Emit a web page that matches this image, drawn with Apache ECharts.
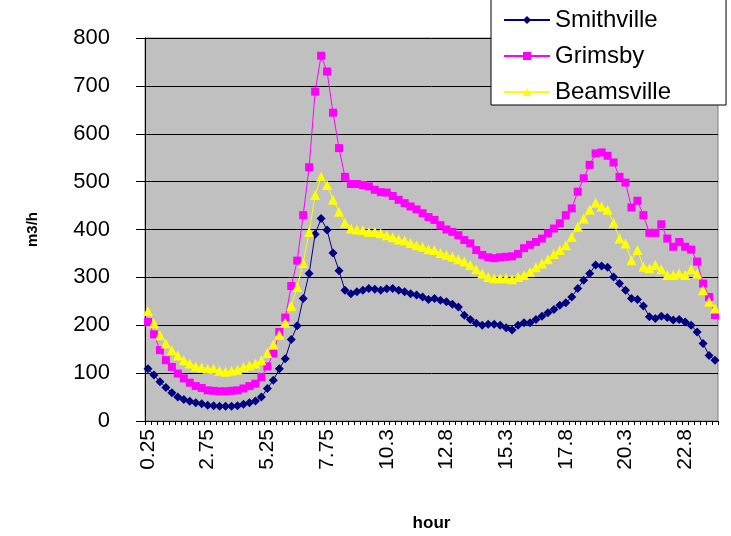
<!DOCTYPE html>
<html>
<head>
<meta charset="utf-8">
<script src="https://cdn.jsdelivr.net/npm/echarts@6/dist/echarts.min.js"></script>
<style>
html,body{margin:0;padding:0;background:#fff;}
#chart{width:731px;height:536px;}
</style>
</head>
<body>
<div id="chart"></div>
<script>
var hours = ["0.25","0.5","0.75","1","1.25","1.5","1.75","2","2.25","2.5","2.75","3",
"3.25","3.5","3.75","4","4.25","4.5","4.75","5","5.25","5.5","5.75","6",
"6.25","6.5","6.75","7","7.25","7.5","7.75","8","8.25","8.5","8.75","9",
"9.25","9.5","9.75","10","10.3","10.5","10.8","11","11.3","11.5","11.8","12",
"12.3","12.5","12.8","13","13.3","13.5","13.8","14","14.3","14.5","14.8","15",
"15.3","15.5","15.8","16","16.3","16.5","16.8","17","17.3","17.5","17.8","18",
"18.3","18.5","18.8","19","19.3","19.5","19.8","20","20.3","20.5","20.8","21",
"21.3","21.5","21.8","22","22.3","22.5","22.8","23","23.3","23.5","23.8","24"];

var smithville = [109,96,82,70,59,50,45,41,38,36,33,32,
31,31,31,32,35,38,42,50,68,85,109,130,
170,199,256,308,390,423,399,351,314,273,266,270,
273,277,275,273,276,277,273,270,266,263,259,254,
256,252,249,244,238,221,212,204,200,202,202,200,
195,190,200,205,205,212,219,226,233,242,247,259,
277,294,308,326,324,321,301,287,273,256,254,240,
218,214,219,216,211,212,207,200,186,162,137,127];

var grimsby = [207,181,148,127,113,99,89,80,73,69,64,63,
62,62,63,64,68,73,78,92,114,141,186,216,
282,335,430,530,688,763,730,644,570,510,495,495,
493,490,483,478,477,470,462,455,448,442,434,426,
420,409,400,395,388,378,371,357,347,342,340,342,
343,344,349,361,368,374,381,392,402,413,430,444,
479,507,535,559,561,554,540,510,498,446,460,430,
393,393,411,381,364,374,364,358,333,287,259,221];

var beamsville = [230,204,179,162,148,137,127,120,114,112,109,109,
105,103,105,107,113,116,120,127,142,160,180,205,
240,280,330,395,472,510,493,462,437,414,402,400,
399,395,395,392,388,384,379,377,372,367,364,359,
357,351,347,343,338,333,326,317,308,301,298,298,
298,296,301,305,312,321,329,338,349,357,367,385,
406,423,441,456,448,441,414,381,371,336,357,322,
319,326,317,305,305,308,305,317,308,273,249,235];

var seriesNames = ["Smithville", "Grimsby", "Beamsville"];

var FONT = "'Liberation Sans', Arial, sans-serif";
var chart = echarts.init(document.getElementById('chart'), null, {renderer:'canvas'});
function mk(name, data, color, symbol, size) {
  return {
    name: name, type: 'line', data: data,
    symbol: symbol, symbolSize: size, showSymbol: true, showAllSymbol: true,
    lineStyle: {color: color, width: 1},
    itemStyle: {color: color},
    emphasis: {disabled: true},
    animation: false
  };
}
chart.setOption({
  backgroundColor: '#ffffff',
  textStyle: {fontFamily: FONT},
  grid: {left: 145, right: 13, top: 38, bottom: 115, show: true,
         outerBoundsMode: 'none', containLabel: false,
         backgroundColor: '#C0C0C0', borderColor: '#808080', borderWidth: 1},
  legend: {
    orient: 'vertical', left: 491, top: -12,
    padding: [20, 55, 1, 12],
    itemGap: 12, itemWidth: 46, itemHeight: 10,
    backgroundColor: '#ffffff', borderColor: '#000000', borderWidth: 1,
    textStyle: {fontSize: 24, color: '#000', fontFamily: FONT},
    data: seriesNames
  },
  xAxis: {
    type: 'category', data: hours, boundaryGap: true,
    name: 'hour', nameLocation: 'middle', nameGap: 94,
    nameTextStyle: {fontSize: 17, fontWeight: 'bold', color: '#000', fontFamily: FONT},
    axisLine: {lineStyle: {color: '#000', width: 1}},
    axisTick: {show: true, interval: 0, length: 4, lineStyle: {color: '#000'}},
    axisLabel: {interval: 9, rotate: 90, fontSize: 21, color: '#000', margin: 8, fontFamily: FONT},
    splitLine: {show: false}
  },
  yAxis: {
    type: 'value', min: 0, max: 800, interval: 100,
    name: 'm3/h', nameLocation: 'middle', nameGap: 105, nameRotate: 90,
    nameTextStyle: {fontSize: 15, fontWeight: 'bold', color: '#000', fontFamily: FONT},
    axisLine: {show: true, lineStyle: {color: '#000', width: 1}},
    axisTick: {show: true, length: 9, lineStyle: {color: '#000'}},
    axisLabel: {fontSize: 22, color: '#000', margin: 35, fontFamily: FONT},
    splitLine: {show: true, lineStyle: {color: '#000', width: 1}}
  },
  series: [
    mk(seriesNames[0], smithville, '#000080', 'diamond', 9),
    mk(seriesNames[1], grimsby, '#FF00FF', 'rect', 8),
    mk(seriesNames[2], beamsville, '#FFFF00', 'triangle', 10)
  ]
});
</script>
</body>
</html>
